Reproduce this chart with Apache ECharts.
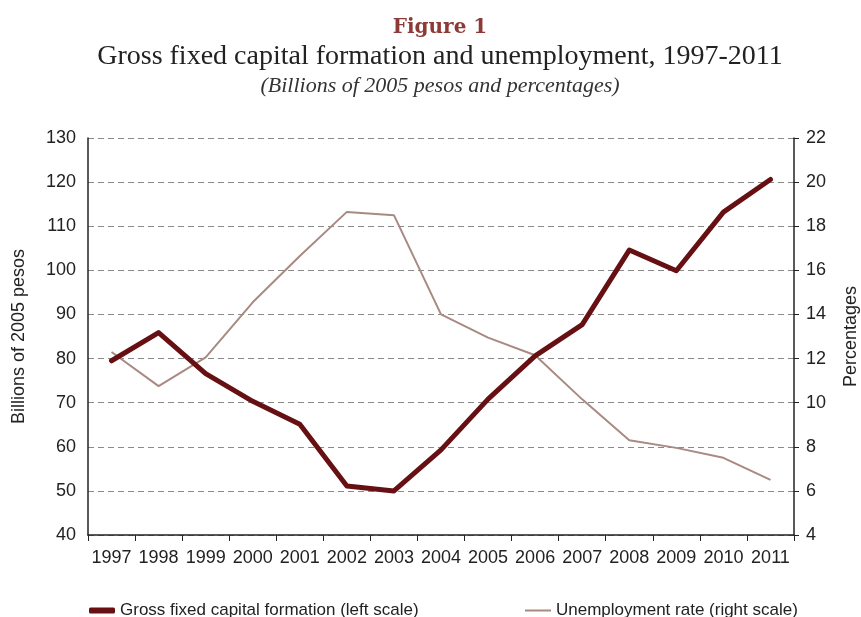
<!DOCTYPE html>
<html><head><meta charset="utf-8">
<script src="https://cdn.jsdelivr.net/npm/echarts@6/dist/echarts.min.js"></script>
<style>html,body{margin:0;padding:0;background:#fff}#c{width:861px;height:617px}</style>
</head><body><div id="c"></div>
<script>
const years = ['1997','1998','1999','2000','2001','2002','2003','2004','2005','2006','2007','2008','2009','2010','2011'];
const gfcf = [79.5, 85.9, 76.6, 70.3, 65.1, 51.1, 50.0, 59.3, 70.8, 80.6, 87.7, 104.6, 99.9, 113.2, 120.6];
const unemployment = [12.3, 10.75, 12.05, 14.55, 16.65, 18.65, 18.5, 14.0, 12.95, 12.15, 10.15, 8.3, 7.95, 7.5, 6.5];
const leftTicks = {min: 40, max: 130, interval: 10};
const rightTicks = {min: 4, max: 22, interval: 2};

const narrow = "'Liberation Sans Narrow', 'Arial Narrow', 'Liberation Sans', sans-serif";
const serif = "'DejaVu Serif', 'Liberation Serif', serif";
const chart = echarts.init(document.getElementById('c'));
chart.setOption({
  animation: false,
  title: [
    {text: 'Figure 1', left: 435, top: 13, textAlign: 'center',
     textStyle: {fontFamily: serif, fontSize: 20, fontWeight: 'bold', color: '#8b3a36'}},
    {text: 'Gross fixed capital formation and unemployment, 1997-2011', left: 435, top: 38, textAlign: 'center',
     textStyle: {fontFamily: "'Liberation Serif', serif", fontSize: 28, fontWeight: 'normal', color: '#222'}},
    {text: '(Billions of 2005 pesos and percentages)', left: 435, top: 70, textAlign: 'center',
     textStyle: {fontFamily: "'Liberation Serif', serif", fontSize: 22, fontStyle: 'italic', fontWeight: 'normal', color: '#333'}}
  ],
  grid: {left: 88, right: 67, top: 138, bottom: 82, containLabel: false, outerBoundsMode: 'none'},
  legend: [
    {data: [{name: 'Gross fixed capital formation (left scale)'}], left: 84, top: 597, icon: 'roundRect',
     itemWidth: 26, itemHeight: 6, itemGap: 6,
     textStyle: {fontFamily: narrow, fontSize: 17, color: '#222'}},
    {data: [{name: 'Unemployment rate (right scale)'}], left: 520, top: 597, icon: 'rect',
     itemWidth: 26, itemHeight: 2, itemGap: 6,
     textStyle: {fontFamily: narrow, fontSize: 17, color: '#222'}}
  ],
  xAxis: {
    type: 'category', data: years, boundaryGap: true,
    axisLine: {lineStyle: {color: '#222', width: 1.5}},
    axisTick: {show: true, length: 6, alignWithLabel: false, lineStyle: {color: '#222'}},
    axisLabel: {fontFamily: narrow, fontSize: 18, color: '#222', margin: 14, interval: 0}
  },
  yAxis: [
    {type: 'value', min: leftTicks.min, max: leftTicks.max, interval: leftTicks.interval,
     name: 'Billions of 2005 pesos', nameLocation: 'middle', nameGap: 60, nameRotate: 90,
     nameTextStyle: {fontFamily: narrow, fontSize: 18, color: '#222'},
     axisLine: {show: true, lineStyle: {color: '#222', width: 1.5}},
     axisTick: {show: false},
     axisLabel: {fontFamily: narrow, fontSize: 18, color: '#222', margin: 12},
     splitLine: {show: true, lineStyle: {color: '#8a8a8a', type: [6, 4], width: 1}}},
    {type: 'value', min: rightTicks.min, max: rightTicks.max, interval: rightTicks.interval,
     position: 'right',
     name: 'Percentages', nameLocation: 'middle', nameGap: 48, nameRotate: 90,
     nameTextStyle: {fontFamily: narrow, fontSize: 18, color: '#222'},
     axisLine: {show: true, lineStyle: {color: '#222', width: 1.5}},
     axisTick: {show: true, length: 5, lineStyle: {color: '#222'}},
     axisLabel: {fontFamily: narrow, fontSize: 18, color: '#222', margin: 12},
     splitLine: {show: false}}
  ],
  series: [
    {name: 'Gross fixed capital formation (left scale)', type: 'line', yAxisIndex: 0, data: gfcf,
     symbol: 'none', lineStyle: {color: '#661013', width: 5, cap: 'round', join: 'round'},
     itemStyle: {color: '#661013'}, z: 3},
    {name: 'Unemployment rate (right scale)', type: 'line', yAxisIndex: 1, data: unemployment,
     symbol: 'none', lineStyle: {color: '#a98a82', width: 2},
     itemStyle: {color: '#a98a82'}, z: 2}
  ]
});
</script></body></html>
